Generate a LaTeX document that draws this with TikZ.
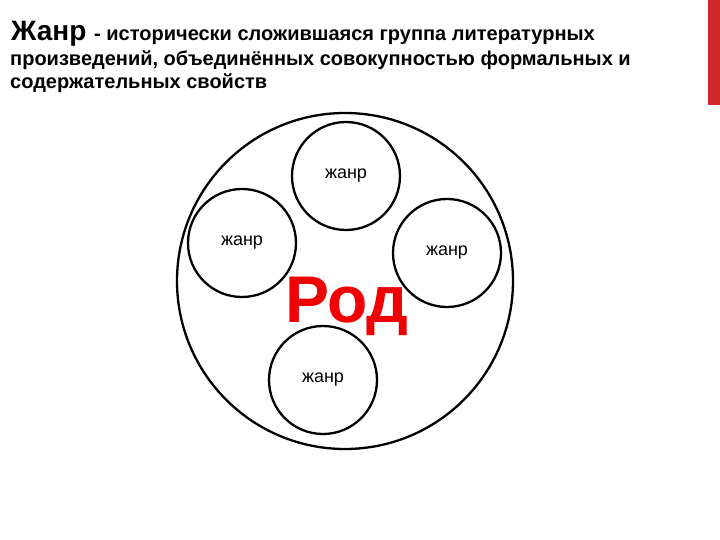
\documentclass[tikz,border=0pt]{standalone}
\usepackage{fontspec}
\setmainfont{Liberation Sans}
\definecolor{barred}{RGB}{208,42,45}
\definecolor{rodred}{RGB}{240,0,0}
\begin{document}
\begin{tikzpicture}[x=1pt,y=-1pt,
  ring/.style={circle,draw=black,line width=2.3pt,minimum size=108pt,inner sep=0pt,font=\fontsize{18}{20}\selectfont},
  titleline/.style={anchor=base west,inner sep=0pt,font=\bfseries}]
\useasboundingbox (0,0) rectangle (720,540);
\fill[barred] (708,0) rectangle (720,105);
\node[titleline] (t1) at (11,41) {\fontsize{28}{30}\selectfont Жанр \fontsize{20}{22}\selectfont - исторически сложившаяся группа литературных};
\node[titleline] (t2) at (10,66) {\fontsize{20}{22}\selectfont произведений, объединённых совокупностью формальных и};
\node[titleline] (t3) at (10,89) {\fontsize{20}{22}\selectfont содержательных свойств};
\node[circle,draw=black,line width=2.3pt,minimum size=336pt,inner sep=0pt] (rod) at (345,281) {};
\node[ring] (g1) at (346,176) {жанр};
\node[ring] (g2) at (242,243) {жанр};
\node[ring] (g3) at (447,253) {жанр};
\node[ring] (g4) at (323,380) {жанр};
\node[text=rodred,font=\bfseries\fontsize{66}{70}\selectfont,inner sep=0pt,anchor=base] (rt) at (347,322) {Род};
\end{tikzpicture}
\end{document}
